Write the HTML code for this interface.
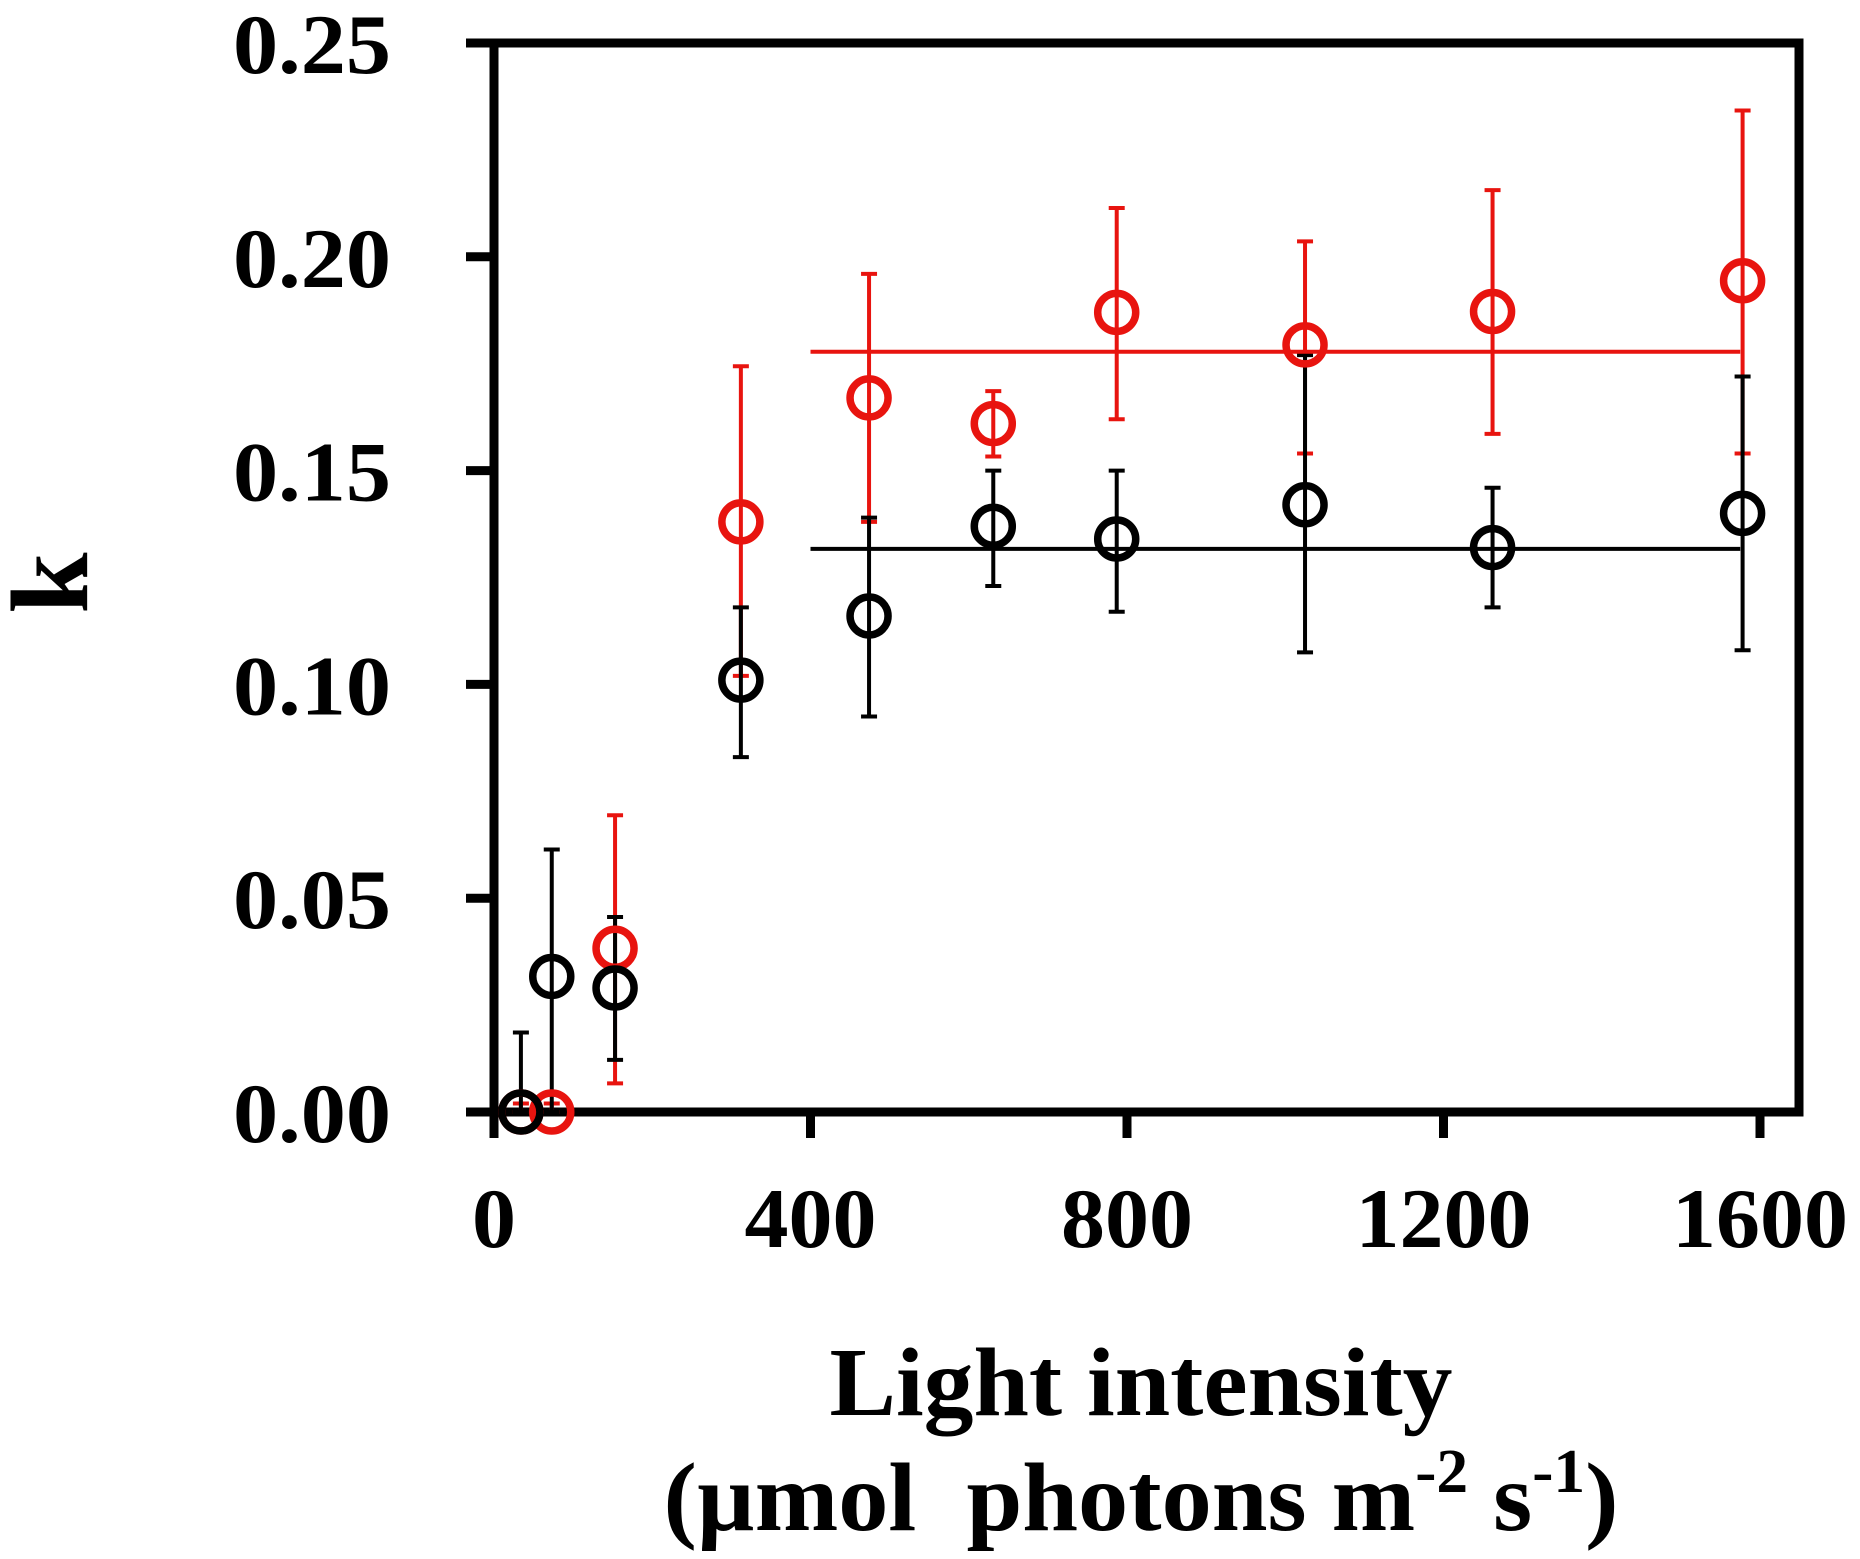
<!DOCTYPE html>
<html><head><meta charset="utf-8"><style>
html,body{margin:0;padding:0;background:#fff;}
svg{display:block;}
text{font-family:"Liberation Serif",serif;font-weight:bold;fill:#000;}
</style></head>
<body>
<svg id="chart" width="1860" height="1559" viewBox="0 0 1860 1559" xmlns="http://www.w3.org/2000/svg">
<g id="axes"></g>
<g id="marks"></g>
<text transform="translate(87,583) rotate(-90)" text-anchor="middle" font-size="110">k</text>
<text x="1141" y="1415" text-anchor="middle" font-size="98" textLength="623" lengthAdjust="spacingAndGlyphs">Light intensity</text>
<text x="1141" y="1530" text-anchor="middle" font-size="98" textLength="955" lengthAdjust="spacingAndGlyphs">(µmol&#160; photons m<tspan dy="-38" font-size="62">-2</tspan><tspan dy="38"> s</tspan><tspan dy="-38" font-size="62">-1</tspan><tspan dy="38">)</tspan></text>
</svg>
<script>
const xTicks=[0,400,800,1200,1600];
const yTicks=[0,0.05,0.10,0.15,0.20,0.25];
const yTickLabels=["0.00","0.05","0.10","0.15","0.20","0.25"];
const xVals=[34,73,153,312,474,631,787,1025,1262,1578];
const blackY=[0,0.0317,0.029,0.101,0.116,0.137,0.134,0.142,0.132,0.140];
const blackHi=[0.0186,0.0614,0.0456,0.118,0.139,0.150,0.150,0.177,0.146,0.172];
const blackLo=[0,0,0.0122,0.083,0.0925,0.123,0.117,0.1075,0.118,0.108];
const redY=[0,0,0.0383,0.138,0.167,0.161,0.187,0.1794,0.1872,0.1944];
const redHi=[0.002,0.002,0.0694,0.1744,0.196,0.1686,0.2114,0.2036,0.2156,0.2342];
const redLo=[0,0,0.0067,0.102,0.138,0.1533,0.162,0.154,0.1586,0.154];
const blackFit=0.1317, redFit=0.1778, fitX0=400, fitX1=1575;

const NS="http://www.w3.org/2000/svg";
const X=v=>494+v*(1760-494)/1600;
const Y=v=>1112-v*(1112-43)/0.25;
function mk(tag,attrs,parent){const e=document.createElementNS(NS,tag);for(const k in attrs)e.setAttribute(k,attrs[k]);parent.appendChild(e);return e;}
const axes=document.getElementById('axes');
const marks=document.getElementById('marks');

let fr=mk('rect',{x:494,y:43,width:1799-494,height:1112-43,fill:'none',stroke:'#000','stroke-width':9},axes);


yTicks.forEach((t,i)=>{
  let l=mk('line',{x1:466,x2:494,y1:Y(t),y2:Y(t),stroke:'#000','stroke-width':9},axes);
  
  
  let tx=mk('text',{x:391,y:Y(t)+30,'text-anchor':'end','font-size':85,textLength:158,lengthAdjust:'spacingAndGlyphs'},axes);
  tx.textContent=yTickLabels[i];
  
  
});
xTicks.forEach(t=>{
  let l=mk('line',{x1:X(t),x2:X(t),y1:1112,y2:1138,stroke:'#000','stroke-width':9},axes);
  
  
  const s=String(t);
  let tx=mk('text',{x:X(t),y:1247,'text-anchor':'middle','font-size':85,textLength:s.length*44,lengthAdjust:'spacingAndGlyphs'},axes);
  tx.textContent=s;
  
  
});

function series(ys,hi,lo,color,name){
  xVals.forEach((xv,i)=>{
    const cx=X(xv);
    let e=mk('line',{x1:cx,x2:cx,y1:Y(hi[i]),y2:Y(lo[i]),stroke:color,'stroke-width':4},marks);
    
    
    [hi[i],lo[i]].forEach(v=>{
      let c=mk('line',{x1:cx-8,x2:cx+8,y1:Y(v),y2:Y(v),stroke:color,'stroke-width':4},marks);
      
      
    });
  });
}
function points(ys,color,name){
  xVals.forEach((xv,i)=>{
    let c=mk('circle',{cx:X(xv),cy:Y(ys[i]),r:19,fill:'none',stroke:color,'stroke-width':7.5},marks);
    
    
  });
}
series(redY,redHi,redLo,'#e8140f','red');
series(blackY,blackHi,blackLo,'#000','black');
let rl=mk('line',{x1:X(fitX0),x2:X(fitX1),y1:Y(redFit),y2:Y(redFit),stroke:'#e8140f','stroke-width':4},marks);


let bl=mk('line',{x1:X(fitX0),x2:X(fitX1),y1:Y(blackFit),y2:Y(blackFit),stroke:'#000','stroke-width':4},marks);


points(redY,'#e8140f','red');
points(blackY,'#000','black');
</script>
</body></html>
